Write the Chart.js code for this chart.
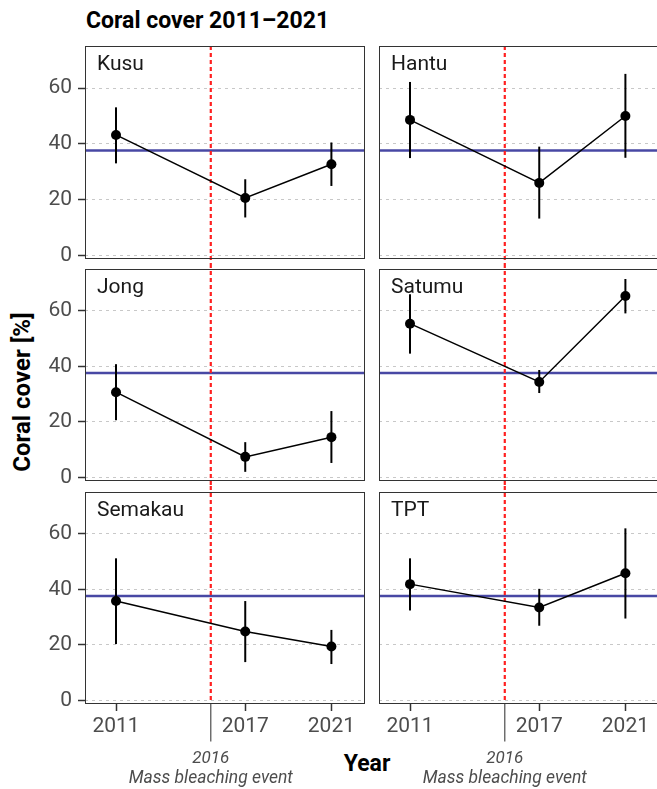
<!DOCTYPE html>
<html>
<head>
<meta charset="utf-8">
<script src="https://cdn.jsdelivr.net/npm/chart.js@4.4.1/dist/chart.umd.min.js"></script>
<style>
body { margin: 0; background: #fff; }
#fig { position: relative; width: 657px; height: 789px; overflow: hidden; font-family: Roboto, sans-serif; }
#fig canvas { position: absolute; }
.txt { position: absolute; white-space: nowrap; line-height: 1; color: #000; }
</style>
</head>
<body>
<div id="fig">
  <div class="txt" style="left:86px; top:9px; font-weight:bold; font-size:23px;">Coral cover 2011–2021</div>
  <div class="txt" style="left:317px; width:100px; text-align:center; top:752px; font-weight:bold; font-size:23px;">Year</div>
  <div class="txt" style="left:22px; top:392px; font-weight:bold; font-size:24px; transform:translate(-50%,-50%) rotate(-90deg);">Coral cover [%]</div>
</div>
<script>
// data
var years = [2011, 2017, 2021];
var sites = ['Kusu', 'Hantu', 'Jong', 'Satumu', 'Semakau', 'TPT'];
var coverMean = [
  [43.2, 20.6, 32.7],
  [48.6, 26.0, 50.0],
  [30.7, 7.4, 14.5],
  [55.4, 34.4, 65.4],
  [35.8, 24.8, 19.4],
  [41.9, 33.5, 45.8]
];
var coverLow = [
  [33.0, 13.6, 24.9],
  [34.9, 13.2, 35.0],
  [20.6, 2.0, 5.2],
  [44.6, 30.4, 59.1],
  [20.3, 13.8, 13.1],
  [32.4, 26.9, 29.5]
];
var coverHigh = [
  [53.1, 27.3, 40.5],
  [62.2, 39.0, 65.1],
  [40.8, 12.7, 23.9],
  [66.0, 38.7, 71.5],
  [51.2, 35.8, 25.4],
  [51.2, 40.2, 62.0]
];
var yTicks = [0, 20, 40, 60];
var eventYear = 2015.4;      // where the dashed bleaching line sits
var eventLabel = ['2016', 'Mass bleaching event'];
var baselineCover = 37.6;    // blue reference line

// axis ranges
var xMin = 2009.56, xMax = 2022.56;
var yMin = -1.3, yMax = 75.1;

Chart.defaults.font.family = 'Roboto, sans-serif';

// facet layout (canvas boxes)
var cols = [
  {left: 0, width: 372, padLeft: 0, padRight: 7, yAxisWidth: 85},
  {left: 372, width: 295, padLeft: 7, padRight: 8, yAxisWidth: 0}
];
var rows = [
  {top: 0, height: 264, padTop: 46, padBottom: 5, xAxis: false},
  {top: 264, height: 222, padTop: 5, padBottom: 5, xAxis: false},
  {top: 486, height: 303, padTop: 6, padBottom: 0, xAxis: true, xAxisHeight: 85}
];

function noEdgePadding(axis) {
  axis.paddingTop = 0; axis.paddingBottom = 0;
  axis.paddingLeft = 0; axis.paddingRight = 0;
}

var panelPlugin = {
  id: 'panel',
  beforeDatasetsDraw: function(chart, args, opts) {
    var ctx = chart.ctx, a = chart.chartArea;
    var x = chart.scales.x, y = chart.scales.y;
    var i = opts.index;
    ctx.save();
    // blue reference line
    var by = y.getPixelForValue(baselineCover);
    ctx.strokeStyle = '#4848a4';
    ctx.lineWidth = 2.5;
    ctx.beginPath(); ctx.moveTo(a.left, by); ctx.lineTo(a.right, by); ctx.stroke();
    // red dashed event line, runs through the gaps between rows
    var ex = x.getPixelForValue(eventYear);
    var top = opts.row === 0 ? a.top : 0;
    var bot = opts.row === 2 ? a.bottom : chart.height;
    ctx.strokeStyle = '#ff2020';
    ctx.lineWidth = 2.2;
    ctx.setLineDash([4, 3]);
    ctx.beginPath(); ctx.moveTo(ex, top); ctx.lineTo(ex, bot); ctx.stroke();
    ctx.setLineDash([]);
    // error bars
    ctx.strokeStyle = '#000';
    ctx.lineWidth = 2;
    for (var k = 0; k < years.length; k++) {
      var px = x.getPixelForValue(years[k]);
      ctx.beginPath();
      ctx.moveTo(px, y.getPixelForValue(coverLow[i][k]));
      ctx.lineTo(px, y.getPixelForValue(coverHigh[i][k]));
      ctx.stroke();
    }
    ctx.restore();
  },
  afterDraw: function(chart, args, opts) {
    var ctx = chart.ctx, a = chart.chartArea;
    ctx.save();
    ctx.strokeStyle = '#333';
    ctx.lineWidth = 1;
    ctx.strokeRect(a.left + 0.5, a.top + 0.5, a.right - a.left - 1, a.bottom - a.top - 1);
    ctx.fillStyle = '#1a1a1a';
    ctx.font = '21px Roboto, sans-serif';
    ctx.textBaseline = 'alphabetic';
    ctx.fillText(sites[opts.index], a.left + 12, a.top + 24);
    if (opts.row === 2) {
      var ex = chart.scales.x.getPixelForValue(eventYear);
      ctx.strokeStyle = '#4d4d4d';
      ctx.lineWidth = 1.2;
      ctx.beginPath(); ctx.moveTo(ex, a.bottom); ctx.lineTo(ex, a.bottom + 37.5); ctx.stroke();
      ctx.fillStyle = '#4d4d4d';
      ctx.textAlign = 'center';
      ctx.font = 'italic 17px Roboto, sans-serif';
      ctx.fillText(eventLabel[0], ex, a.bottom + 59);
      ctx.font = 'italic 17.5px Roboto, sans-serif';
      ctx.fillText(eventLabel[1], ex, a.bottom + 79);
    }
    ctx.restore();
  }
};

var fig = document.getElementById('fig');

function makePanel(i) {
  var r = Math.floor(i / 2), c = i % 2;
  var col = cols[c], row = rows[r];
  var canvas = document.createElement('canvas');
  canvas.width = col.width;
  canvas.height = row.height;
  canvas.style.left = col.left + 'px';
  canvas.style.top = row.top + 'px';
  canvas.style.width = col.width + 'px';
  canvas.style.height = row.height + 'px';
  fig.appendChild(canvas);

  new Chart(canvas, {
    type: 'line',
    data: {
      datasets: [{
        data: years.map(function(yr, k) { return {x: yr, y: coverMean[i][k]}; }),
        borderColor: '#000',
        borderWidth: 1.5,
        pointRadius: 5,
        pointBackgroundColor: '#000',
        pointBorderWidth: 0,
        tension: 0
      }]
    },
    options: {
      responsive: false,
      animation: false,
      events: [],
      layout: {padding: {left: col.padLeft, right: col.padRight, top: row.padTop, bottom: row.padBottom}},
      plugins: {
        legend: {display: false},
        tooltip: {enabled: false},
        panel: {index: i, row: r}
      },
      scales: {
        x: {
          type: 'linear',
          min: xMin,
          max: xMax,
          display: row.xAxis,
          afterBuildTicks: function(axis) { axis.ticks = years.map(function(v) { return {value: v}; }); },
          afterFit: function(axis) {
            if (row.xAxis) axis.height = row.xAxisHeight;
            noEdgePadding(axis);
          },
          grid: {display: true, drawOnChartArea: false, drawTicks: true, tickLength: 7, tickColor: '#333', tickWidth: 1.5},
          border: {display: false},
          ticks: {
            callback: function(v) { return String(v); },
            font: {size: 21},
            color: '#4d4d4d',
            padding: 3,
            maxRotation: 0,
            autoSkip: false
          }
        },
        y: {
          type: 'linear',
          min: yMin,
          max: yMax,
          afterBuildTicks: function(axis) { axis.ticks = yTicks.map(function(v) { return {value: v}; }); },
          afterFit: function(axis) {
            axis.width = col.yAxisWidth;
            noEdgePadding(axis);
          },
          grid: {color: '#c8c8c8', lineWidth: 1, drawTicks: c === 0, tickLength: 7, tickColor: '#333', tickWidth: 1.5, tickBorderDash: []},
          border: {display: false, dash: [3, 4]},
          ticks: {display: c === 0, font: {size: 21}, color: '#4d4d4d', padding: 6}
        }
      }
    },
    plugins: [panelPlugin]
  });
}

for (var i = 0; i < sites.length; i++) makePanel(i);
</script>
</body>
</html>
